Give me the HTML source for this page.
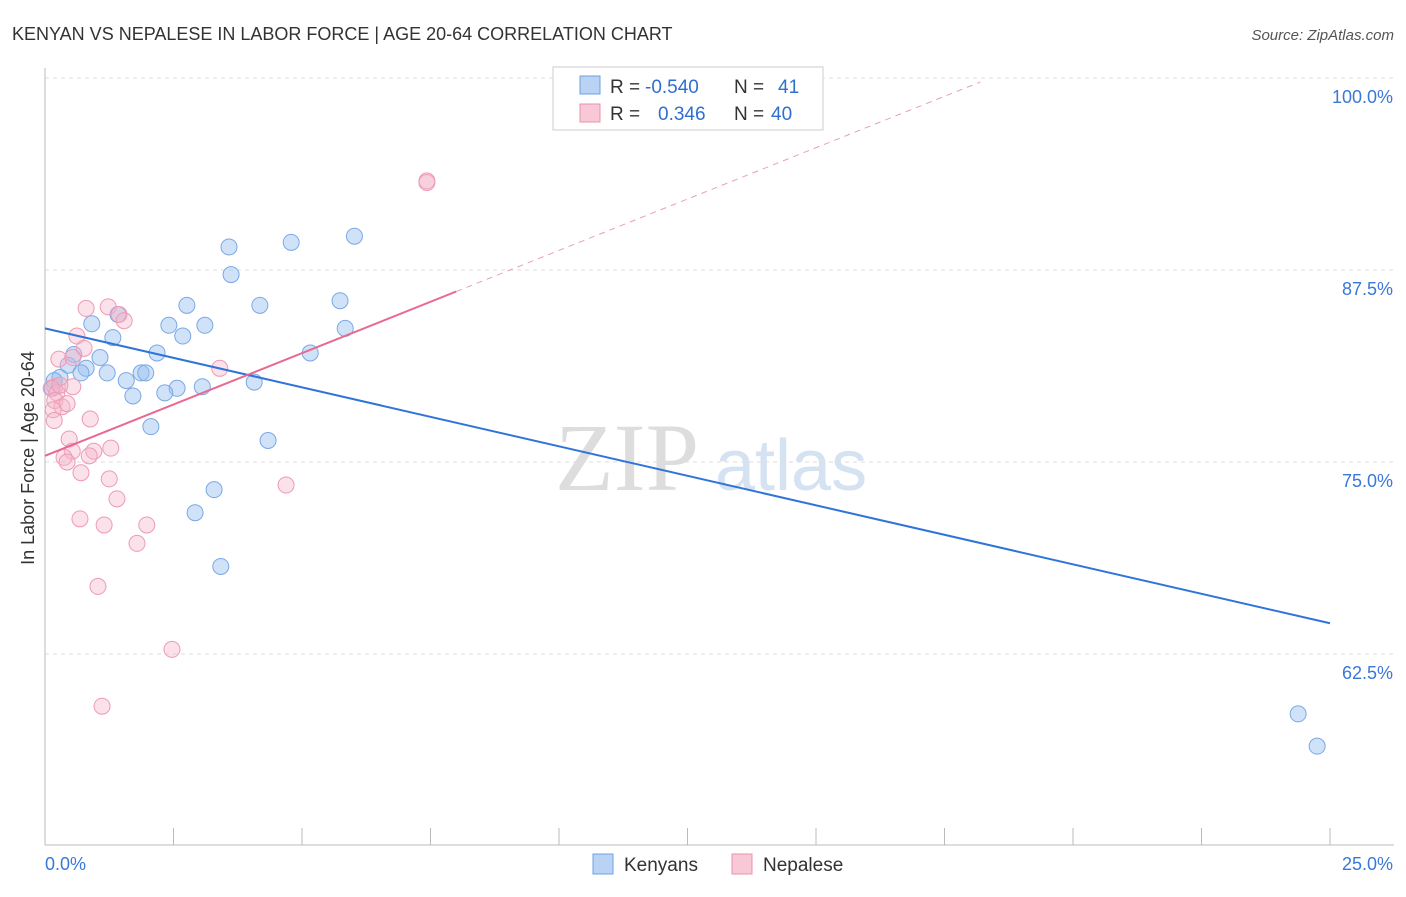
<!DOCTYPE html>
<html><head><meta charset="utf-8"><style>
body{margin:0;background:#fff;font-family:"Liberation Sans",sans-serif;}
#wrap{position:relative;width:1406px;height:892px;}
</style></head><body>
<div id="wrap">
<svg id="svg" width="1406" height="892" xmlns="http://www.w3.org/2000/svg">
<text x="12" y="40" font-size="18" fill="#333">KENYAN VS NEPALESE IN LABOR FORCE | AGE 20-64 CORRELATION CHART</text>
<text x="1394" y="40" font-size="15" fill="#555" font-style="italic" text-anchor="end">Source: ZipAtlas.com</text>
<text x="34" y="458" font-size="18" fill="#333" text-anchor="middle" transform="rotate(-90 34 458)">In Labor Force | Age 20-64</text>
<text x="555" y="490" font-size="96" fill="#ddd" font-family="Liberation Serif,serif">ZIP</text>
<text x="715" y="490" font-size="72" fill="#d4e2f2">atlas</text>
<g id="grid"></g><g id="pts"></g><g id="lines"></g>
<g>
<rect x="553" y="67" width="270" height="63" fill="#fff" stroke="#ccc"/>
<rect x="580" y="76" width="20" height="18" fill="#b8d3f3" stroke="#6fa0e0"/>
<text x="610" y="93" font-size="19" fill="#333">R =</text>
<text x="645" y="93" font-size="19" fill="#2f6fd0">-0.540</text>
<text x="734" y="93" font-size="19" fill="#333">N =</text>
<text x="778" y="93" font-size="19" fill="#2f6fd0">41</text>
<rect x="580" y="104" width="20" height="18" fill="#f8c8d6" stroke="#e890ab"/>
<text x="610" y="120" font-size="19" fill="#333">R =</text>
<text x="658" y="120" font-size="19" fill="#2f6fd0">0.346</text>
<text x="734" y="120" font-size="19" fill="#333">N =</text>
<text x="771" y="120" font-size="19" fill="#2f6fd0">40</text>
</g>
<g>
<rect x="593" y="854" width="20" height="20" fill="#b8d3f3" stroke="#6fa0e0"/>
<text x="624" y="871" font-size="19" fill="#333">Kenyans</text>
<rect x="732" y="854" width="20" height="20" fill="#f8c8d6" stroke="#e890ab"/>
<text x="763" y="871" font-size="19" fill="#333">Nepalese</text>
</g>
</svg></div>
<script>
const yTicks=[100,87.5,75,62.5];
const yTickLabels=["100.0%","87.5%","75.0%","62.5%"];
const xTickVals=[0,2.5,5,7.5,10,12.5,15,17.5,20,22.5,25];
const kenX=[10.35,3.58,4.79,6.02,3.62,2.76,4.18,5.74,1.42,0.91,2.41,3.11,5.84,1.32,2.68,2.18,5.16,0.56,1.07,0.45,0.80,0.70,1.21,1.87,1.96,0.29,0.18,1.58,4.07,2.57,3.06,2.33,1.71,0.14,2.06,4.34,3.29,2.92,3.42,24.38,24.75];
const kenY=[99.9,89.0,89.3,89.7,87.2,85.2,85.2,85.5,84.6,84.0,83.9,83.9,83.7,83.1,83.2,82.1,82.1,82.0,81.8,81.3,81.1,80.8,80.8,80.8,80.8,80.5,80.3,80.3,80.2,79.8,79.9,79.5,79.3,79.8,77.3,76.4,73.2,71.7,68.2,58.6,56.5];
const nepX=[7.43,7.43,0.80,1.23,1.44,1.54,0.62,0.76,0.27,0.54,3.40,0.19,0.54,0.12,0.23,0.19,0.33,0.43,0.16,0.88,0.18,0.47,0.53,1.28,0.95,0.86,0.37,0.43,0.70,1.25,1.40,4.69,0.68,1.15,1.98,1.79,1.03,2.47,1.11,0.29];
const nepY=[93.3,93.2,85.0,85.1,84.6,84.2,83.2,82.4,81.7,81.8,81.1,79.9,79.9,79.8,79.5,79.0,78.6,78.8,78.4,77.8,77.7,76.5,75.7,75.9,75.7,75.4,75.3,75.0,74.3,73.9,72.6,73.5,71.3,70.9,70.9,69.7,66.9,62.8,59.1,80.0];
const kenLine=[0,83.7,25,64.5];
const nepLine=[0,75.4,8.0,86.1];
const nepDashEnd=18.2;
const X=v=>45+v*51.4, Y=v=>78+(100-v)*15.36;
const NS="http://www.w3.org/2000/svg";
function mk(tag,attrs,parent){const e=document.createElementNS(NS,tag);for(const k in attrs)e.setAttribute(k,attrs[k]);document.getElementById(parent).appendChild(e);return e;}
yTicks.forEach((t,i)=>{
 const l=mk('line',{x1:45,x2:1394,y1:Y(t),y2:Y(t),stroke:'#ddd','stroke-dasharray':'4,4'},'grid');
 
 
 const tx=mk('text',{x:1393,y:Y(t)+25,'font-size':18,fill:'#3a78d8','text-anchor':'end'},'grid');
 tx.textContent=yTickLabels[i];
 
 
});
const ax=mk('line',{x1:45,x2:1394,y1:845,y2:845,stroke:'#bbb'},'grid');


const ay=mk('line',{x1:45,x2:45,y1:68,y2:845,stroke:'#bbb'},'grid');


xTickVals.forEach(v=>{
 const t=mk('line',{x1:X(v),x2:X(v),y1:828,y2:845,stroke:'#bbb'},'grid');
 
 
});
[[0,'0.0%','start',45],[25,'25.0%','end',1393]].forEach(a=>{
 const t=mk('text',{x:a[3],y:870,'font-size':18,fill:'#3a78d8','text-anchor':a[2]},'grid');
 t.textContent=a[1];
 
 
});
kenX.forEach((x,i)=>{
 const c=mk('circle',{cx:X(x),cy:Y(kenY[i]),r:8,fill:'rgba(150,190,240,0.45)',stroke:'#7aa8e6','stroke-width':1},'pts');
 
 
});
nepX.forEach((x,i)=>{
 const c=mk('circle',{cx:X(x),cy:Y(nepY[i]),r:8,fill:'rgba(245,180,200,0.4)',stroke:'#ee9ab5','stroke-width':1},'pts');
 
 
});
const kl=mk('line',{x1:X(kenLine[0]),y1:Y(kenLine[1]),x2:X(kenLine[2]),y2:Y(kenLine[3]),stroke:'#2f74d8','stroke-width':2},'lines');


const nl=mk('line',{x1:X(nepLine[0]),y1:Y(nepLine[1]),x2:X(nepLine[2]),y2:Y(nepLine[3]),stroke:'#e8688f','stroke-width':2},'lines');


const slope=(nepLine[3]-nepLine[1])/(nepLine[2]-nepLine[0]);
const nd=mk('line',{x1:X(nepLine[2]),y1:Y(nepLine[3]),x2:X(nepDashEnd),y2:Y(nepLine[1]+slope*nepDashEnd),stroke:'#e8a0b6','stroke-width':1,'stroke-dasharray':'6,5'},'lines');


</script>
</body></html>
